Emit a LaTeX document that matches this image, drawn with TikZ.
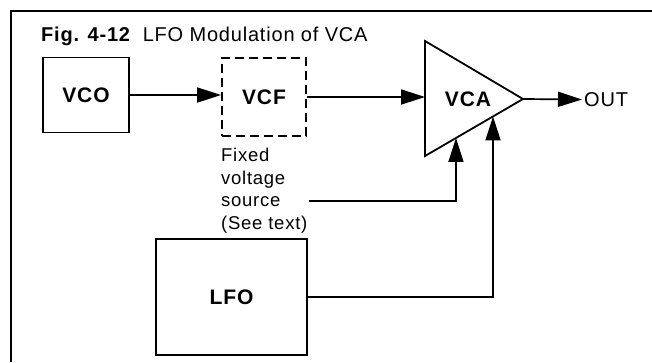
\documentclass[tikz,border=0pt]{standalone}
\usepackage{fontspec}
\setmainfont[LetterSpace=4]{Liberation Sans}
\usetikzlibrary{arrows.meta,calc}
\tikzset{
  bloque/.style={rectangle, draw, line width=1.8pt, inner sep=0pt,
                 font=\fontsize{21}{24}\selectfont\bfseries},
  flecha/.style={-{Triangle[length=24pt,width=15pt]}, line width=1.7pt},
  linea/.style={line width=1.5pt},
  etiq/.style={font=\fontsize{18.5}{22.5}\selectfont, align=left, inner sep=0pt}
}

\begin{document}
\begin{tikzpicture}[x=1pt,y=-1pt]
\useasboundingbox (0,0) rectangle (652,362);
\draw[linea] (11,362) -- (11,11) -- (652,11);
\node[anchor=base west, inner sep=0pt, font=\fontsize{20}{22}\selectfont] (titulo) at (41,41)
  {{\bfseries Fig. 4-12}\ \ LFO Modulation of VCA};

\node[bloque, minimum width=86pt, minimum height=75pt] (vco) at (86,95) {VCO};
\node[bloque, dashed, dash pattern=on 9pt off 5pt, minimum width=84pt, minimum height=78pt] (vcf) at (264,97) {VCF};
\node[bloque, minimum width=151pt, minimum height=116pt] (lfo) at (231.5,297) {LFO};

% amplificador
\coordinate (vcaA) at (425,41);
\coordinate (vcaB) at (425,156);
\coordinate (vcaC) at (523,99);
\draw[line width=1.8pt, line join=miter] (vcaA) -- (vcaC) -- (vcaB) -- cycle;
\node[font=\fontsize{21}{24}\selectfont\bfseries] (vca) at (468,99) {VCA};
\node[anchor=west, inner sep=2pt, font=\fontsize{20}{22}\selectfont] (out) at (582,99.5) {OUT};

\node[etiq, anchor=north west] (fijo) at (221,148) {Fixed\\ voltage\\ source\\ (See text)};
\coordinate (fvs) at (309,201);

\draw[flecha] (vco.east) -- (vco.east -| vcf.west);
\draw[flecha] (vcf.east) -- (vcf.east -| vcaA);
\draw[flecha] (vcaC) -- (out.west);
\draw[flecha] (fvs) -| ($(vcaB)!0.316!(vcaC)$);
\draw[flecha] (lfo.east) -| ($(vcaB)!0.694!(vcaC)$);
\end{tikzpicture}
\end{document}
